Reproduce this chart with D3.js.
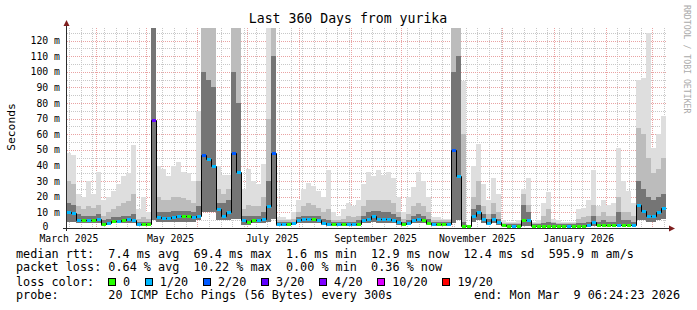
<!DOCTYPE html>
<meta charset="utf-8">
<style>
body { margin: 0; background: #fff; }
svg { display: block; font-family: "DejaVu Sans Mono", monospace; }
text { white-space: pre; }
.minor { stroke: #c8c8c8; stroke-width: 1; stroke-dasharray: 1,1; shape-rendering: crispEdges; }
.major { stroke: #e9a3a3; stroke-width: 1; stroke-dasharray: 1,1; shape-rendering: crispEdges; }
.axis-line { stroke: #2c2c2c; stroke-width: 1; shape-rendering: crispEdges; }
</style>
<svg width="697" height="310"></svg>
<script src="https://cdn.jsdelivr.net/npm/d3@7"></script>
<script>

// one sample every 3 days, 120 samples over the 360 days
var median = [
  10, 9.5, 5, 5, 5, 5, 5.5, 2.3, 3.5, 4.5,
  4.5, 5, 5.5, 5, 2.3, 2.3, 2.3, 69.4, 7, 6.4,
  6.5, 7, 7.5, 8, 7.5, 7, 8, 47, 44, 40,
  12, 7.6, 10, 48, 36, 5, 4, 5, 5, 6,
  14, 48, 2.3, 2.3, 2.3, 3, 5, 5.5, 5.5, 5.5,
  5, 3, 2.3, 2.3, 2.3, 2.3, 2.3, 2.3, 2.5, 5,
  6, 8, 5.5, 5.5, 5.5, 5, 4, 2.3, 3, 5,
  5.5, 5, 3.5, 2.3, 2.3, 2.3, 2.3, 50, 33, 1.5,
  1.5, 8, 10, 6, 3.5, 6, 4, 1.8, 1.5, 1.5,
  1.5, 5, 5, 1.5, 1.5, 1.5, 1.5, 1.5, 1.3, 1.3,
  1.3, 1.3, 1.5, 1.5, 2, 4, 2, 2, 2, 2,
  2, 2, 2, 2, 15, 11, 7.5, 7.8, 10, 13
];

// highest ping of each sample (lightest smoke)
var smokeMax = [
  48, 47, 22, 20, 30, 22, 36, 18, 20, 24,
  28, 33, 35, 53, 12, 20, 10, 128, 40, 38,
  33, 40, 42, 36, 35, 30, 75, 128, 128, 128,
  40, 34, 34, 128, 128, 25, 38, 30, 28, 41,
  128, 128, 7, 7, 6, 10, 18, 25, 29, 27,
  24, 20, 37, 10, 8, 12, 16, 14, 18, 28,
  36, 33, 37, 34, 36, 32, 20, 10, 20, 26,
  36, 30, 20, 7, 7, 6, 6, 128, 128, 94,
  2, 40, 54, 28, 18, 32, 22, 5, 4, 4,
  5, 25, 32, 4, 5, 16, 23, 6, 5, 4,
  4, 4, 12, 13, 18, 37, 14, 18, 15, 16,
  51, 30, 24, 16, 95, 96, 125, 51, 60, 72
];

// upper middle smoke
var smokeHi2 = [
  30, 28, 14, 12, 14, 13, 15, 8, 10, 12,
  14, 16, 17, 22, 6, 7, 6, 128, 20, 18,
  18, 20, 20, 19, 18, 16, 30, 128, 128, 128,
  25, 22, 25, 128, 128, 12, 15, 14, 14, 20,
  70, 128, 5, 5, 5, 6, 10, 14, 16, 15,
  13, 10, 12, 5, 5, 6, 8, 7, 8, 14,
  18, 18, 18, 18, 18, 16, 10, 6, 9, 14,
  16, 14, 10, 5, 5, 5, 5, 128, 128, 60,
  2, 20, 30, 14, 9, 16, 10, 3.5, 3, 3,
  3, 22, 15, 3, 3, 8, 12, 4, 3, 3,
  3, 3, 6, 7, 8, 15, 8, 10, 8, 8,
  20, 10, 10, 8, 64, 60, 45, 35, 38, 45
];

// dark smoke close to the median
var smokeHi1 = [
  16, 15, 9, 8, 8, 8, 9, 5, 6, 7,
  7, 8, 8, 9, 4, 4, 4, 128, 10, 10,
  10, 11, 11, 11, 11, 10, 14, 100, 95, 90,
  16, 16, 18, 100, 80, 8, 8, 8, 8, 10,
  30, 110, 4, 4, 4, 4, 7, 8, 8, 8,
  8, 6, 5, 4, 4, 4, 4, 4, 5, 8,
  10, 11, 11, 10, 10, 9, 7, 4, 5, 8,
  9, 8, 6, 4, 4, 4, 4, 100, 110, 4,
  2, 12, 15, 9, 6, 9, 6, 2.5, 2.5, 2.5,
  2.5, 15, 10, 2.5, 2.5, 3, 4, 3, 2.5, 2.5,
  2.5, 2.5, 3, 3, 4, 8, 4, 5, 4, 4,
  10, 5, 5, 4, 30, 25, 20, 18, 20, 22
];

// lowest ping of each sample
var smokeLo = [
  4, 4, 3, 3, 3, 3, 3, 1.5, 2, 3,
  3, 3, 3, 3, 1.5, 1.5, 1.5, 5, 4, 4,
  4, 4, 4, 4, 4, 4, 5, 10, 10, 10,
  5, 5, 5, 6, 6, 2, 2, 3, 3, 3,
  4, 6, 1.5, 1.5, 1.5, 2, 3, 3, 3, 3,
  3, 2, 1.5, 1.5, 1.5, 1.5, 1.5, 1.5, 1.5, 3,
  3, 4, 3, 3, 3, 3, 2, 1.5, 2, 3,
  3, 3, 2, 1.5, 1.5, 1.5, 1.5, 3, 5, 1,
  1, 4, 5, 3, 2, 3, 2, 1, 1, 1,
  1, 1, 1, 1, 1, 1, 1, 1, 1, 1,
  1, 1, 1, 1, 1, 1.5, 1, 1, 1, 1,
  1, 1, 1, 1, 5, 5, 4, 4, 5, 6
];

// index into lossLabels / lossColors
var lossIdx = [
  1, 1, 1, 0, 1, 0, 1, 0, 1, 0,
  1, 0, 1, 1, 1, 0, 0, 3, 1, 1,
  1, 1, 1, 0, 0, 1, 1, 2, 1, 1,
  1, 1, 1, 2, 1, 1, 0, 0, 1, 1,
  1, 2, 1, 1, 0, 1, 1, 1, 1, 0,
  1, 1, 1, 0, 1, 0, 1, 1, 0, 1,
  1, 1, 1, 1, 1, 1, 1, 0, 1, 1,
  1, 0, 0, 1, 0, 0, 1, 2, 1, 0,
  0, 1, 1, 1, 1, 1, 1, 0, 0, 1,
  0, 0, 1, 0, 0, 0, 0, 0, 0, 0,
  1, 0, 0, 0, 1, 1, 0, 0, 0, 0,
  1, 0, 0, 1, 1, 1, 1, 1, 1, 1
];

var lossLabels = ["0", "1/20", "2/20", "3/20", "4/20", "10/20", "19/20"];
var lossColors = ["#26ff00", "#00b8ff", "#0059ff", "#5e00ff", "#7e00ff", "#dd00ff", "#ff0000"];

var yTickValues = [0, 10, 20, 30, 40, 50, 60, 70, 80, 90, 100, 110, 120];
var xLabelMonths = ["2025-03-01", "2025-05-01", "2025-07-01", "2025-09-01", "2025-11-01", "2026-01-01"];

var titleText = "Last 360 Days from yurika";
var legendLines = [
  "median rtt:  7.4 ms avg  69.4 ms max  1.6 ms min  12.9 ms now  12.4 ms sd  595.9 m am/s",
  "packet loss: 0.64 % avg  10.22 % max  0.00 % min  0.36 % now",
  "loss color:",
  "probe:       20 ICMP Echo Pings (56 Bytes) every 300s"
];
var endText = "end: Mon Mar  9 06:24:23 2026";

var DAY = 864e5;
var end = Date.UTC(2026, 2, 9, 6, 24, 23),
    start = end - 360 * DAY,
    step = 3 * DAY;

var svg = d3.select("svg");

var x = d3.scaleUtc().domain([start, end]).range([66, 666]);
var y = d3.scaleLinear().domain([0, 128]).range([228, 28]).clamp(true);

var t = median.map(function(d, i) { return start + i * step; });

svg.append("rect").attr("width", 697).attr("height", 310).attr("fill", "#fff");

// grid
var gGrid = svg.append("g");
var ymin = [];
for (var v = 5; v <= 125; v += 10) ymin.push(v);
gGrid.selectAll(".hmin").data(ymin).enter().append("line")
  .attr("class", "minor")
  .attr("x1", 67).attr("x2", 667)
  .attr("y1", function(d) { return Math.round(y(d)) + 0.5; })
  .attr("y2", function(d) { return Math.round(y(d)) + 0.5; });

gGrid.selectAll(".vmin").data(d3.utcSunday.range(new Date(start), new Date(end))).enter().append("line")
  .attr("class", "minor")
  .attr("y1", 28).attr("y2", 228)
  .attr("x1", function(d) { return Math.round(x(d)) + 0.5; })
  .attr("x2", function(d) { return Math.round(x(d)) + 0.5; });

gGrid.selectAll(".hmaj").data(yTickValues.slice(1)).enter().append("line")
  .attr("class", "major")
  .attr("x1", 67).attr("x2", 667)
  .attr("y1", function(d) { return Math.round(y(d)) + 0.5; })
  .attr("y2", function(d) { return Math.round(y(d)) + 0.5; });

gGrid.selectAll(".vmaj").data(d3.utcMonth.range(new Date(start), new Date(end))).enter().append("line")
  .attr("class", "major")
  .attr("y1", 28).attr("y2", 228)
  .attr("x1", function(d) { return Math.round(x(d)) + 0.5; })
  .attr("x2", function(d) { return Math.round(x(d)) + 0.5; });

// smoke
var gSmoke = svg.append("g").attr("shape-rendering", "crispEdges");
function band(top, color) {
  gSmoke.append("g").selectAll("rect").data(top).enter().append("rect")
    .attr("x", function(d, i) { return Math.round(x(t[i])); })
    .attr("width", function(d, i) { return Math.round(x(t[i] + step)) - Math.round(x(t[i])); })
    .attr("y", function(d) { return Math.round(y(d)); })
    .attr("height", function(d, i) { return Math.max(0, Math.round(y(smokeLo[i])) - Math.round(y(d))); })
    .attr("fill", color);
}
band(smokeMax, "#dedede");
band(smokeHi2, "#bcbcbc");
band(smokeHi1, "#757575");

// median
var pts = median.map(function(d, i) { return [t[i], d]; });
pts.push([end, median[median.length - 1]]);
svg.append("path")
  .datum(pts)
  .attr("fill", "none")
  .attr("stroke", "#000")
  .attr("stroke-width", 1)
  .attr("d", d3.line()
    .curve(d3.curveStepAfter)
    .x(function(d) { return Math.round(x(d[0])) + 0.5; })
    .y(function(d) { return Math.round(y(d[1])) + 0.5; }));

svg.append("g").attr("shape-rendering", "crispEdges")
  .selectAll("rect").data(median).enter().append("rect")
  .attr("x", function(d, i) { return Math.round(x(t[i])) + 1; })
  .attr("width", 4)
  .attr("y", function(d) { return Math.round(y(d)) - 1; })
  .attr("height", 3)
  .attr("fill", function(d, i) { return lossColors[lossIdx[i]]; });

// axes
svg.append("line").attr("class", "axis-line")
  .attr("x1", 63).attr("x2", 670).attr("y1", 228.5).attr("y2", 228.5);
svg.append("line").attr("class", "axis-line")
  .attr("x1", 66.5).attr("x2", 66.5).attr("y1", 231).attr("y2", 25);
svg.append("path").attr("fill", "#7f1f1f")
  .attr("d", "M63.5,26L69.5,26L66.5,20Z");
svg.append("path").attr("fill", "#7f1f1f")
  .attr("d", "M669,225.5L669,231.5L675,228.5Z");

svg.append("g").selectAll("text").data(yTickValues).enter().append("text")
  .attr("x", function(d) { return d === 0 ? 48.4 : 60; })
  .attr("y", function(d) { return d === 0 ? y(d) + 2 : y(d) + 3.5; })
  .attr("text-anchor", "end")
  .attr("font-size", "9.8px")
  .text(function(d) { return d === 0 ? "0" : d + " m"; });

var fmtMonth = d3.utcFormat("%B %Y");
svg.append("g").selectAll("text").data(xLabelMonths.map(function(s) { return d3.isoParse(s); })).enter().append("text")
  .attr("x", function(d) { return x(+d + 15 * DAY); })
  .attr("y", 241.5)
  .attr("text-anchor", "middle")
  .attr("font-size", "9.8px")
  .text(fmtMonth);

// titles
svg.append("text")
  .attr("x", 348).attr("y", 23)
  .attr("text-anchor", "middle")
  .attr("font-size", "13.2px")
  .text(titleText);

svg.append("text")
  .attr("transform", "translate(15,127) rotate(-90)")
  .attr("text-anchor", "middle")
  .attr("font-size", "11.3px")
  .text("Seconds");

svg.append("text")
  .attr("transform", "translate(684,5) rotate(90)")
  .attr("font-size", "8.2px")
  .attr("fill", "#aaaaaa")
  .text("RRDTOOL / TOBI OETIKER");

// legend
var baselines = [257.5, 271, 285.5, 299];
svg.append("g").selectAll("text").data(legendLines).enter().append("text")
  .attr("x", 16)
  .attr("y", function(d, i) { return baselines[i]; })
  .attr("font-size", "11.8px")
  .text(function(d) { return d; });

svg.append("text")
  .attr("x", 680).attr("y", baselines[3])
  .attr("text-anchor", "end")
  .attr("font-size", "11.8px")
  .text(endText);

var cw = 7.1, bx = 108;
var gBox = svg.append("g");
lossLabels.forEach(function(lbl, i) {
  gBox.append("rect")
    .attr("x", bx + 0.5).attr("y", 278.5)
    .attr("width", 7).attr("height", 7)
    .attr("fill", lossColors[i])
    .attr("stroke", "#000")
    .attr("shape-rendering", "crispEdges");
  gBox.append("text")
    .attr("x", bx + 15).attr("y", baselines[2])
    .attr("font-size", "11.8px")
    .text(lbl);
  bx += 15 + lbl.length * cw + 14.7;
});

</script>
